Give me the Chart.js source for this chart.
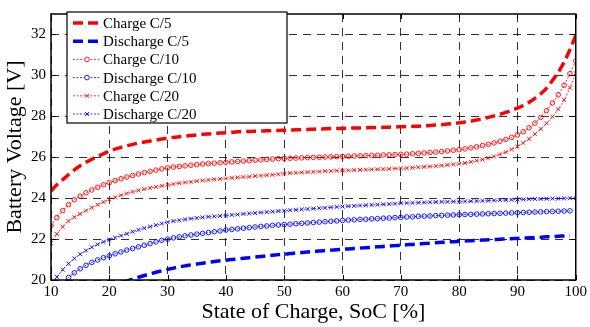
<!DOCTYPE html>
<html>
<head>
<meta charset="utf-8">
<script src="https://cdn.jsdelivr.net/npm/chart.js@4.4.1/dist/chart.umd.min.js"></script>
<style>
  html, body { margin: 0; padding: 0; background: #fff; }
  #wrap { width: 590px; height: 327px; position: relative; }
</style>
</head>
<body>
<div id="wrap"><canvas id="soc-chart"></canvas></div>
<script>
// State of charge [%]
const soc = [10, 11, 12, 13, 14, 15, 16, 17, 18, 19, 20, 21, 22, 23, 24, 25, 26, 27, 28, 29,
  30, 31, 32, 33, 34, 35, 36, 37, 38, 39, 40, 41, 42, 43, 44, 45, 46, 47, 48, 49,
  50, 51, 52, 53, 54, 55, 56, 57, 58, 59, 60, 61, 62, 63, 64, 65, 66, 67, 68, 69,
  70, 71, 72, 73, 74, 75, 76, 77, 78, 79, 80, 81, 82, 83, 84, 85, 86, 87, 88, 89,
  90, 91, 92, 93, 94, 95, 96, 97, 98, 99, 100];

// Battery voltage [V]
const chargeC5 = [24.35, 24.65, 24.9, 25.15, 25.38, 25.58, 25.75, 25.9, 26.04, 26.17,
  26.3, 26.4, 26.48, 26.56, 26.63, 26.69, 26.74, 26.79, 26.84, 26.89,
  26.93, 26.97, 27.0, 27.03, 27.06, 27.09, 27.12, 27.14, 27.16, 27.18,
  27.2, 27.22, 27.24, 27.25, 27.26, 27.27, 27.28, 27.29, 27.3, 27.31,
  27.32, 27.33, 27.34, 27.35, 27.36, 27.37, 27.38, 27.39, 27.4, 27.4,
  27.41, 27.42, 27.43, 27.43, 27.44, 27.45, 27.45, 27.46, 27.47, 27.48,
  27.49, 27.5, 27.51, 27.52, 27.53, 27.55, 27.57, 27.59, 27.62, 27.65,
  27.68, 27.72, 27.77, 27.82, 27.88, 27.95, 28.02, 28.1, 28.19, 28.29,
  28.4, 28.53, 28.69, 28.88, 29.1, 29.38, 29.75, 30.15, 30.65, 31.25, 31.95];

const dischargeC5 = [null, null, null, null, null, null, null, null, null, null,
  19.6, 19.72, 19.83, 19.94, 20.04, 20.13, 20.22, 20.3, 20.38, 20.45,
  20.52, 20.58, 20.64, 20.69, 20.74, 20.78, 20.82, 20.86, 20.9, 20.94,
  20.97, 21.0, 21.03, 21.06, 21.09, 21.12, 21.15, 21.18, 21.21, 21.24,
  21.26, 21.29, 21.32, 21.34, 21.37, 21.39, 21.42, 21.44, 21.46, 21.48,
  21.5, 21.52, 21.54, 21.56, 21.58, 21.6, 21.62, 21.64, 21.66, 21.68,
  21.7, 21.72, 21.74, 21.76, 21.78, 21.8, 21.82, 21.84, 21.86, 21.87,
  21.89, 21.91, 21.92, 21.94, 21.95, 21.97, 21.98, 21.99, 22.01, 22.02,
  22.03, 22.05, 22.06, 22.08, 22.09, 22.11, 22.12, 22.14, 22.15, 22.17, null];

const chargeC10 = [22.65, 23.05, 23.39, 23.68, 23.92, 24.1, 24.26, 24.4, 24.53, 24.65,
  24.76, 24.86, 24.95, 25.03, 25.11, 25.18, 25.25, 25.31, 25.37, 25.43,
  25.48, 25.52, 25.55, 25.58, 25.61, 25.64, 25.67, 25.69, 25.71, 25.73,
  25.75, 25.77, 25.79, 25.81, 25.83, 25.85, 25.87, 25.89, 25.91, 25.93,
  25.94, 25.95, 25.96, 25.97, 25.98, 25.99, 26.0, 26.01, 26.02, 26.03,
  26.04, 26.05, 26.06, 26.07, 26.08, 26.09, 26.1, 26.11, 26.12, 26.13,
  26.14, 26.15, 26.17, 26.19, 26.21, 26.23, 26.25, 26.28, 26.31, 26.34,
  26.37, 26.41, 26.46, 26.51, 26.57, 26.63, 26.7, 26.78, 26.87, 26.97,
  27.09, 27.25, 27.44, 27.67, 27.95, 28.28, 28.65, 29.05, 29.52, 30.08, 30.7];

const dischargeC10 = [19.0, 19.5, 19.85, 20.12, 20.35, 20.55, 20.72, 20.86, 20.98, 21.09,
  21.18, 21.28, 21.37, 21.46, 21.54, 21.62, 21.7, 21.78, 21.86, 21.94,
  22.0, 22.06, 22.11, 22.16, 22.2, 22.24, 22.28, 22.32, 22.36, 22.4,
  22.44, 22.47, 22.5, 22.53, 22.56, 22.59, 22.62, 22.64, 22.67, 22.69,
  22.71, 22.73, 22.75, 22.77, 22.79, 22.81, 22.83, 22.85, 22.87, 22.89,
  22.91, 22.93, 22.94, 22.96, 22.97, 22.99, 23.0, 23.02, 23.03, 23.05,
  23.06, 23.08, 23.09, 23.11, 23.12, 23.13, 23.15, 23.16, 23.17, 23.18,
  23.19, 23.2, 23.21, 23.22, 23.23, 23.24, 23.25, 23.26, 23.27, 23.28,
  23.29, 23.3, 23.31, 23.32, 23.33, 23.34, 23.35, 23.36, 23.37, 23.38, null];

const chargeC20 = [21.8, 22.25, 22.6, 22.88, 23.07, 23.23, 23.39, 23.54, 23.68, 23.81,
  23.94, 24.04, 24.14, 24.23, 24.31, 24.38, 24.44, 24.5, 24.55, 24.6,
  24.65, 24.69, 24.73, 24.77, 24.8, 24.83, 24.86, 24.89, 24.92, 24.94,
  24.96, 24.99, 25.01, 25.03, 25.05, 25.08, 25.1, 25.12, 25.14, 25.17,
  25.2, 25.22, 25.24, 25.26, 25.27, 25.29, 25.3, 25.32, 25.33, 25.34,
  25.35, 25.36, 25.37, 25.38, 25.39, 25.4, 25.41, 25.42, 25.43, 25.45,
  25.46, 25.47, 25.49, 25.51, 25.53, 25.55, 25.57, 25.59, 25.62, 25.65,
  25.68, 25.72, 25.77, 25.83, 25.89, 25.96, 26.04, 26.14, 26.25, 26.38,
  26.52, 26.7, 26.9, 27.13, 27.38, 27.66, 27.98, 28.35, 28.8, 29.4, 30.1];

const dischargeC20 = [19.75, 20.15, 20.5, 20.8, 21.05, 21.26, 21.44, 21.6, 21.74, 21.86,
  21.97, 22.07, 22.17, 22.26, 22.36, 22.45, 22.53, 22.61, 22.68, 22.76,
  22.83, 22.88, 22.92, 22.96, 23.0, 23.03, 23.06, 23.09, 23.11, 23.13,
  23.15, 23.18, 23.2, 23.23, 23.25, 23.27, 23.3, 23.32, 23.34, 23.37,
  23.39, 23.41, 23.43, 23.45, 23.47, 23.49, 23.51, 23.53, 23.55, 23.57,
  23.59, 23.61, 23.62, 23.64, 23.65, 23.67, 23.68, 23.7, 23.71, 23.73,
  23.75, 23.76, 23.77, 23.78, 23.79, 23.8, 23.81, 23.82, 23.82, 23.83,
  23.83, 23.84, 23.85, 23.86, 23.87, 23.88, 23.89, 23.9, 23.91, 23.92,
  23.93, 23.94, 23.95, 23.96, 23.96, 23.97, 23.98, 23.98, 23.99, 24.0, 24.0];

const xTicks = [10, 20, 30, 40, 50, 60, 70, 80, 90, 100];
const yTicks = [20, 22, 24, 26, 28, 30, 32];

const serif = "'Liberation Serif', 'Times New Roman', serif";
const RED = '#ff0000';
const BLUE = '#0000ff';

const toPoints = (values) => soc.map((s, i) => ({ x: s, y: values[i] }));

// thick dashed curve (C/5)
const dashedSet = (label, values, color) => ({
  label,
  data: toPoints(values),
  borderColor: color,
  borderWidth: 3.5,
  borderDash: [10, 5],
  pointRadius: 0,
  tension: 0.3,
  fill: false,
});

// thin dotted curve with markers (C/10, C/20)
const markerSet = (label, values, color, marker) => ({
  label,
  data: toPoints(values),
  borderColor: color,
  borderWidth: 0.8,
  borderDash: [2, 1.5],
  pointStyle: marker,
  pointRadius: marker === 'circle' ? 2.3 : 2.8,
  pointBorderWidth: 0.9,
  pointBorderColor: color,
  pointBackgroundColor: 'rgba(255,255,255,0)',
  tension: 0.3,
  fill: false,
});

// Box round the plot, inward ticks and the boxed legend (MATLAB style)
const framePlugin = {
  id: 'frame',
  afterDatasetsDraw(chart) {
    const { ctx, chartArea: a, scales: { x, y } } = chart;
    ctx.save();
    ctx.strokeStyle = '#000';
    ctx.lineWidth = 1;
    ctx.setLineDash([]);
    ctx.beginPath();
    xTicks.forEach((v) => {
      const px = Math.round(x.getPixelForValue(v)) + 0.5;
      ctx.moveTo(px, a.bottom); ctx.lineTo(px, a.bottom - 5);
      ctx.moveTo(px, a.top); ctx.lineTo(px, a.top + 5);
    });
    yTicks.forEach((v) => {
      const py = Math.round(y.getPixelForValue(v)) + 0.5;
      ctx.moveTo(a.left, py); ctx.lineTo(a.left + 5, py);
      ctx.moveTo(a.right, py); ctx.lineTo(a.right - 5, py);
    });
    ctx.stroke();
    ctx.lineWidth = 1.5;
    ctx.strokeRect(a.left, a.top, a.right - a.left, a.bottom - a.top);
    ctx.restore();
  },
  afterDraw(chart) {
    const { ctx } = chart;
    const box = { left: 67, top: 12, width: 220, height: 111 };
    ctx.save();
    ctx.fillStyle = '#fff';
    ctx.fillRect(box.left, box.top, box.width, box.height);
    ctx.strokeStyle = '#000';
    ctx.lineWidth = 1.2;
    ctx.strokeRect(box.left, box.top, box.width, box.height);
    ctx.font = `15px ${serif}`;
    ctx.textBaseline = 'middle';
    chart.data.datasets.forEach((ds, i) => {
      const rowY = box.top + 11 + i * 18.2;
      ctx.strokeStyle = ds.borderColor;
      ctx.lineWidth = ds.borderWidth;
      ctx.setLineDash(ds.borderDash);
      ctx.beginPath();
      ctx.moveTo(box.left + 6, rowY);
      ctx.lineTo(box.left + 33, rowY);
      ctx.stroke();
      ctx.setLineDash([]);
      if (ds.pointRadius) {
        ctx.lineWidth = ds.pointBorderWidth;
        ctx.strokeStyle = ds.pointBorderColor;
        ctx.fillStyle = '#fff';
        Chart.helpers.drawPoint(ctx, {
          pointStyle: ds.pointStyle,
          radius: ds.pointRadius,
          borderWidth: ds.pointBorderWidth,
          rotation: 0,
        }, box.left + 20, rowY);
      }
      ctx.fillStyle = '#000';
      ctx.fillText(ds.label, box.left + 36, rowY + 1);
    });
    ctx.restore();
  },
};

const gridOpts = { color: 'rgba(0,0,0,0.8)', lineWidth: 1, drawTicks: false };
const borderOpts = { display: false, dash: [8, 6] };

const ctx = document.getElementById('soc-chart').getContext('2d');
const socChart = new Chart(ctx, {
  type: 'line',
  data: {
    datasets: [
      dashedSet('Charge C/5', chargeC5, RED),
      dashedSet('Discharge C/5', dischargeC5, BLUE),
      markerSet('Charge C/10', chargeC10, RED, 'circle'),
      markerSet('Discharge C/10', dischargeC10, BLUE, 'circle'),
      markerSet('Charge C/20', chargeC20, RED, 'crossRot'),
      markerSet('Discharge C/20', dischargeC20, BLUE, 'crossRot'),
    ],
  },
  options: {
    responsive: true,
    maintainAspectRatio: false,
    animation: false,
    layout: { padding: { top: 5, right: 13, left: 0, bottom: 0 } },
    plugins: {
      legend: { display: false },
      tooltip: { enabled: false },
    },
    scales: {
      x: {
        type: 'linear',
        min: 10,
        max: 100,
        afterBuildTicks: (scale) => { scale.ticks = xTicks.map((v) => ({ value: v })); },
        afterFit: (scale) => { scale.height = 47; },
        grid: gridOpts,
        border: borderOpts,
        ticks: { color: '#000', font: { family: serif, size: 15 }, padding: 3, maxRotation: 0 },
        title: {
          display: true,
          text: 'State of Charge, SoC [%]',
          color: '#000',
          font: { family: serif, size: 22 },
          padding: { top: 0, bottom: 2 },
        },
      },
      y: {
        type: 'linear',
        min: 20,
        max: 33,
        afterBuildTicks: (scale) => { scale.ticks = yTicks.map((v) => ({ value: v })); },
        afterFit: (scale) => { scale.width = 51; },
        grid: gridOpts,
        border: borderOpts,
        ticks: { color: '#000', font: { family: serif, size: 15 }, padding: 5 },
        title: {
          display: true,
          text: 'Battery Voltage [V]',
          color: '#000',
          font: { family: serif, size: 22 },
          padding: { top: 2, bottom: 0 },
        },
      },
    },
  },
  plugins: [framePlugin],
});
</script>
</body>
</html>
